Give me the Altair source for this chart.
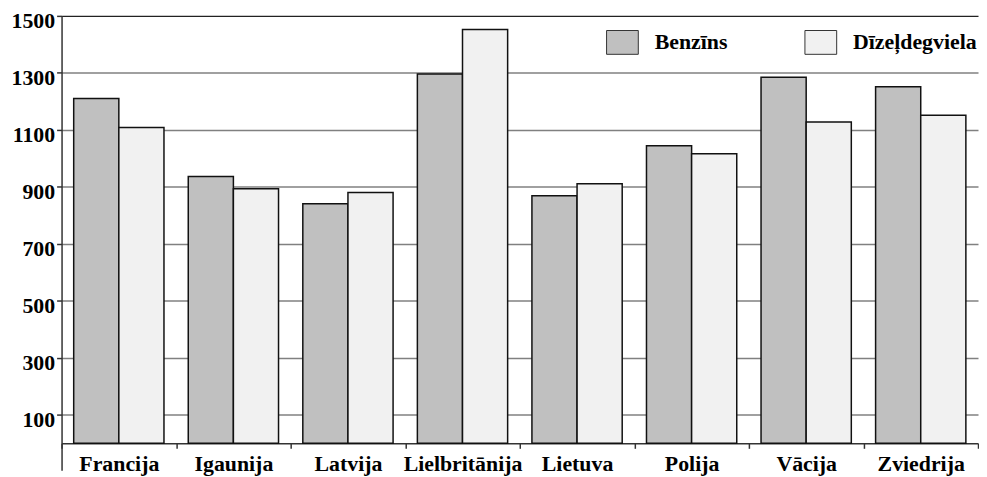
import altair as alt
import pandas as pd

countries = ["Francija", "Igaunija", "Latvija", "Lielbritānija", "Lietuva", "Polija", "Vācija", "Zviedrija"]
benzins = [1210, 936, 841, 1296, 869, 1044, 1285, 1251]
dizel = [1108, 893, 880, 1452, 911, 1016, 1128, 1151]
series = ["Benzīns", "Dīzeļdegviela"]
y_ticks = [100, 300, 500, 700, 900, 1100, 1300, 1500]

rows = []
for c, b, d in zip(countries, benzins, dizel):
    rows.append({"valsts": c, "veids": series[0], "vertiba": b})
    rows.append({"valsts": c, "veids": series[1], "vertiba": d})
df = pd.DataFrame(rows)

FONT = "Liberation Serif"
FS = 22

bars = alt.Chart(df).mark_bar(stroke="#111111", strokeWidth=1.5).encode(
    x=alt.X(
        "valsts:N",
        sort=countries,
        scale=alt.Scale(paddingInner=0, paddingOuter=0),
        axis=alt.Axis(
            title=None, orient="bottom", offset=-27, tickBand="extent", labelAngle=0,
            labelFont=FONT, labelFontSize=FS, labelFontWeight="bold", labelColor="black",
            labelPadding=5, tickSize=5, tickColor="#333333", tickWidth=1.5,
            domainColor="#333333", domainWidth=1.5, grid=False,
        ),
    ),
    xOffset=alt.XOffset("veids:N", sort=series, scale=alt.Scale(paddingInner=0, paddingOuter=0.269)),
    y=alt.Y(
        "vertiba:Q",
        scale=alt.Scale(domain=[-94, 1500], nice=False, zero=False),
        axis=alt.Axis(
            title=None, values=y_ticks, grid=True, format="d",
            gridColor=alt.condition("datum.value == 1500", alt.value("#222222"), alt.value("#808080")),
            gridWidth=1.5, domainColor="#333333", domainWidth=1.5,
            tickSize=5, tickColor="#333333", tickWidth=1.5,
            labelFont=FONT, labelFontSize=FS, labelFontWeight="bold", labelColor="black",
            labelPadding=2, labelOffset=5,
        ),
    ),
    y2=alt.datum(0),
    color=alt.Color(
        "veids:N",
        sort=series,
        scale=alt.Scale(domain=series, range=["#c0c0c0", "#f1f1f1"]),
        legend=alt.Legend(
            title=None, orient="none", legendX=549, legendY=10, direction="horizontal",
            columns=2, columnPadding=75, symbolType="M-1,-0.75H1V0.75H-1Z", symbolSize=1024,
            symbolStrokeColor="#333333", symbolStrokeWidth=1, symbolOpacity=1,
            labelOffset=16, labelFont=FONT, labelFontSize=FS, labelFontWeight="bold",
            labelColor="black", padding=0,
        ),
    ),
)

chart = bars.properties(
    width=924,
    height=458,
    padding={"left": 54, "top": 6, "right": 1, "bottom": 8},
    autosize=alt.AutoSizeParams(type="none"),
    background="white",
).configure_view(stroke=None)

chart.save("out.html", embed_options={"renderer": "svg", "actions": False})
